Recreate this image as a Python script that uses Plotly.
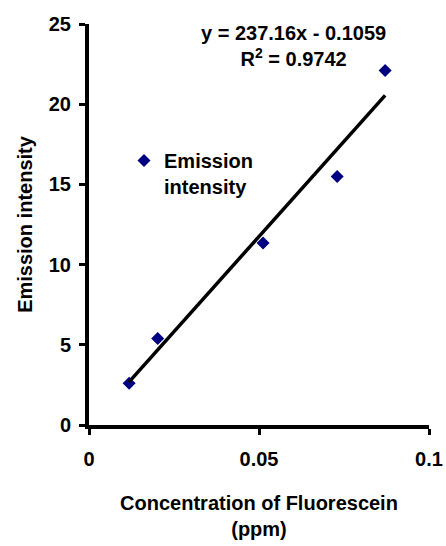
import plotly.graph_objects as go
import numpy as np

# Data
concentration = [0.0118, 0.0202, 0.0512, 0.0730, 0.0871]
emission = [2.6, 5.4, 11.35, 15.5, 22.1]

# Linear trendline (as printed on chart)
slope = 237.16
intercept = -0.1059
r_squared = 0.9742

x_ticks = [0, 0.05, 0.1]
x_tick_labels = ["0", "0.05", "0.1"]
y_ticks = [0, 5, 10, 15, 20, 25]
y_tick_labels = ["0", "5", "10", "15", "20", "25"]

x_fit = np.array([min(concentration), max(concentration)])
y_fit = slope * x_fit + intercept

FONT = "Liberation Sans, Arial, sans-serif"

fig = go.Figure()
fig.add_trace(go.Scatter(
    x=concentration, y=emission, mode="markers",
    name="<b>Emission</b><br><b>intensity</b>",
    marker=dict(symbol="diamond", size=10, color="#000080"),
))
fig.add_trace(go.Scatter(
    x=x_fit, y=y_fit, mode="lines", showlegend=False,
    line=dict(color="black", width=3.5),
))

fig.add_annotation(
    xref="paper", yref="paper", x=0.6, y=1.01,
    xanchor="center", yanchor="top", showarrow=False, align="center",
    text=f"<b>y = {slope}x - {abs(intercept)}</b><br><b>R<sup>2</sup> = {r_squared}</b>",
    font=dict(family=FONT, size=20, color="black"),
)

fig.update_layout(
    width=446, height=546,
    margin=dict(l=89, r=17, t=24, b=121, autoexpand=False),
    paper_bgcolor="white", plot_bgcolor="white",
    font=dict(family=FONT, size=19, color="black"),
    showlegend=True,
    legend=dict(
        x=0.103, y=0.708, xanchor="left", yanchor="top",
        bgcolor="rgba(0,0,0,0)", valign="top",
        font=dict(family=FONT, size=20, color="black"),
    ),
    xaxis=dict(
        range=[0, 0.1], tickmode="array", tickvals=x_ticks,
        ticktext=[f"<b>{t}</b>" for t in x_tick_labels],
        showline=True, linecolor="black", linewidth=4,
        ticks="outside", ticklen=6, tickwidth=3, tickcolor="black",
        showgrid=False, zeroline=False, automargin=False,
        tickfont=dict(family=FONT, size=20, color="black"),
        ticklabelstandoff=7,
        title=dict(text="<b>Concentration of Fluorescein<br>(ppm)</b>",
                   font=dict(family=FONT, size=20, color="black"), standoff=28),
    ),
    yaxis=dict(
        range=[0, 25], tickmode="array", tickvals=y_ticks,
        ticktext=[f"<b>{t}</b>" for t in y_tick_labels],
        showline=True, linecolor="black", linewidth=4,
        ticks="outside", ticklen=6, tickwidth=3, tickcolor="black",
        showgrid=False, zeroline=False, automargin=False,
        tickfont=dict(family=FONT, size=20, color="black"),
        ticklabelstandoff=4,
        title=dict(text="<b>Emission intensity</b>",
                   font=dict(family=FONT, size=20, color="black"), standoff=12),
    ),
)

fig.write_html("out.html")
